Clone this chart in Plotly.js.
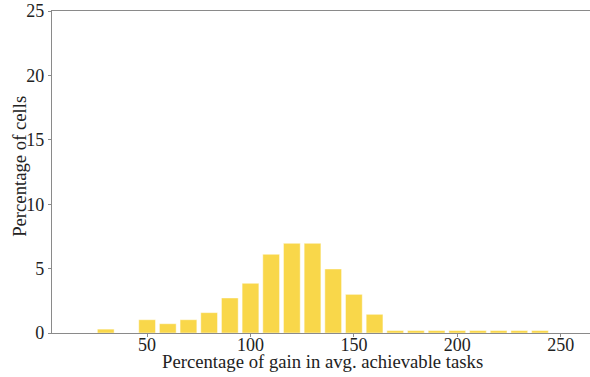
<!DOCTYPE html>
<html>
<head>
<meta charset="utf-8">
<script src="https://cdn.plot.ly/plotly-3.0.1.min.js"></script>
<style>html,body{margin:0;padding:0;background:#fff;}#chart{width:590px;height:377px;}</style>
</head>
<body>
<div id="chart"></div>
<script>
const gainBins = [30, 50, 60, 70, 80, 90, 100, 110, 120, 130, 140, 150, 160, 170, 180, 190, 200, 210, 220, 230, 240];
const cellPercent = [0.3, 1.03, 0.72, 1.03, 1.58, 2.72, 3.86, 6.11, 6.96, 6.96, 4.97, 3.0, 1.45, 0.19, 0.19, 0.19, 0.19, 0.19, 0.19, 0.19, 0.19];
const xTicks = [50, 100, 150, 200, 250];
const yTicks = [0, 5, 10, 15, 20, 25];
const xTitle = 'Percentage of gain in avg. achievable tasks';
const yTitle = 'Percentage of cells';

const fam = '"Liberation Serif", "DejaVu Serif", serif';
const tickFont = {family: fam, size: 18, color: '#222'};
const titleFont = {family: fam, size: 18.7, color: '#222'};

Plotly.newPlot('chart', [{
  type: 'bar',
  x: gainBins,
  y: cellPercent,
  width: 8.1,
  marker: {color: '#f9d74a', line: {color: 'rgba(255,255,255,0.45)', width: 1}},
  hoverinfo: 'skip'
}], {
  width: 590, height: 377,
  margin: {l: 52, r: 0, t: 11, b: 44},
  paper_bgcolor: '#fff', plot_bgcolor: '#fff',
  showlegend: false,
  font: tickFont,
  xaxis: {
    range: [4, 264.2],
    tickvals: xTicks,
    ticktext: xTicks.map(String),
    showgrid: false, zeroline: false,
    showline: true, linecolor: '#8a8a8a', linewidth: 1.2, mirror: true,
    ticks: 'outside', ticklen: 3, tickcolor: '#8a8a8a', tickwidth: 1,
    tickfont: tickFont,
    ticklabelstandoff: -8
  },
  yaxis: {
    range: [0, 25],
    tickvals: yTicks,
    ticktext: yTicks.map(String),
    showgrid: false, zeroline: false,
    showline: true, linecolor: '#8a8a8a', linewidth: 1.2,
    ticks: 'outside', ticklen: 3, tickcolor: '#8a8a8a', tickwidth: 1,
    tickfont: tickFont
  },
  annotations: [
    {text: xTitle, xref: 'paper', yref: 'paper', x: 0.502, y: 0, xanchor: 'center', yanchor: 'middle', yshift: -28, showarrow: false, font: titleFont},
    {text: yTitle, xref: 'paper', yref: 'paper', x: 0, y: 0.516, xanchor: 'center', yanchor: 'middle', xshift: -32, textangle: -90, showarrow: false, font: titleFont}
  ]
}, {staticPlot: true, displayModeBar: false});
</script>
</body>
</html>
